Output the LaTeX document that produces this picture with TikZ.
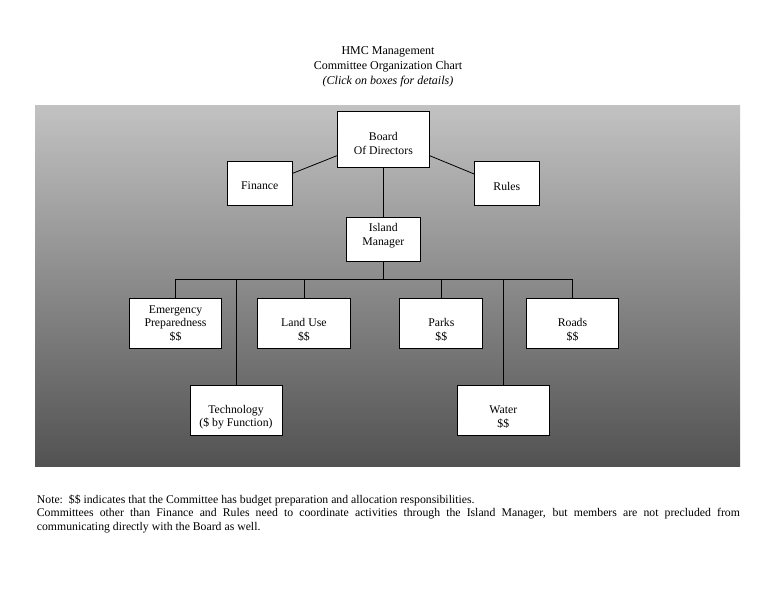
\documentclass[tikz,border=0pt]{standalone}
\usepackage{fontspec}
\setmainfont{Liberation Serif}
\usetikzlibrary{calc}
\definecolor{bgtop}{RGB}{194,194,194}
\definecolor{bgmid}{RGB}{156,156,156}
\definecolor{bgbot}{RGB}{82,82,82}
\begin{document}
\begin{tikzpicture}[x=1pt,y=-1pt,
  box/.style={draw=black, fill=white, line width=0.8pt, inner sep=0pt},
  lbl/.style={align=center, font=\fontsize{11.75}{13.5}\selectfont, inner sep=0pt},
  link/.style={draw=black, line width=0.8pt}]
\useasboundingbox (0,0) rectangle (776,600);
% title
\node[align=center, font=\fontsize{12}{15.3}\selectfont, inner sep=0pt] (title) at (388,66.7)
  {HMC Management\\Committee Organization Chart\\\textit{(Click on boxes for details)}};
% background
\shade[top color=bgtop, middle color=bgmid, bottom color=bgbot] (35,105) rectangle (740,466);
% boxes
\node[box, minimum width=92pt, minimum height=56pt] (board) at (383.3,139.7) {};
\node[box, minimum width=65pt, minimum height=43.3pt] (fin) at (259.8,183.3) {};
\node[box, minimum width=64.5pt, minimum height=43.3pt] (rules) at (506.8,183.3) {};
\node[box, minimum width=74pt, minimum height=44.4pt] (isl) at (383.3,239.5) {};
\node[box, minimum width=92.4pt, minimum height=50pt] (emg) at (175.5,323.3) {};
\node[box, minimum width=92.3pt, minimum height=50pt] (land) at (303.9,323.3) {};
\node[box, minimum width=83pt, minimum height=50pt] (parks) at (441.3,323.3) {};
\node[box, minimum width=92pt, minimum height=50pt] (roads) at (572.5,323.3) {};
\node[box, minimum width=92pt, minimum height=50pt] (tech) at (236,410.7) {};
\node[box, minimum width=92.5pt, minimum height=50pt] (water) at (503.3,410.7) {};
% labels
\node[lbl] (boardlbl) at (383.3,143.7) {Board\\Of Directors};
\node[lbl] (finlbl) at (259.8,186) {Finance};
\node[lbl] (ruleslbl) at (506.8,186) {Rules};
\node[lbl] (isllbl) at (383.3,235.5) {Island\\Manager};
\node[lbl] (emglbl) at (175.5,323.3) {Emergency\\Preparedness\\\$\$};
\node[lbl] (landlbl) at (303.9,330) {Land Use\\\$\$};
\node[lbl] (parkslbl) at (441.3,330) {Parks\\\$\$};
\node[lbl] (roadslbl) at (572.5,330) {Roads\\\$\$};
\node[lbl] (techlbl) at (236,417.2) {Technology\\(\$ by Function)};
\node[lbl] (waterlbl) at (503.3,417) {Water\\\$\$};
% connectors
\draw[link] ([yshift=-16pt]board.west) -- ([yshift=10pt]fin.east);
\draw[link] ([yshift=-16pt]board.east) -- ([yshift=9.3pt]rules.west);
\draw[link] (board.south) -- (isl.north);
\coordinate (bus) at (383.3,279.3);
\draw[link] (isl.south) -- (bus);
\draw[link] (emg.north |- bus) -- (roads.north |- bus);
\foreach \n in {emg,land,parks,roads,tech,water}
  \draw[link] (\n.north |- bus) -- (\n.north);
% note
\node[anchor=base west, text width=703pt, align=justify, inner sep=0pt,
      font=\fontsize{11.75}{13.3}\selectfont] (note) at (36.7,503.4)
  {Note:\ \ \$\$ indicates that the Committee has budget preparation and allocation responsibilities.\par
   Committees other than Finance and Rules need to coordinate activities through the Island Manager, but members are not precluded from\linebreak communicating directly with the Board as well.};
\end{tikzpicture}
\end{document}
